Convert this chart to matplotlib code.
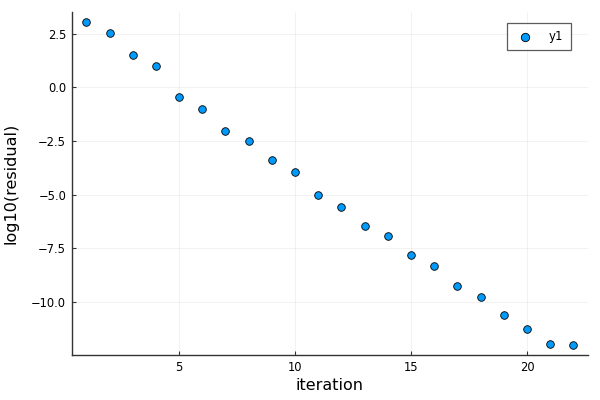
import matplotlib
matplotlib.use('Agg')
import matplotlib.pyplot as plt

# data
iteration = list(range(1, 23))
log_residual = [3.06, 2.55, 1.50, 0.99, -0.46, -1.02, -2.03, -2.50, -3.38, -3.95,
                -5.01, -5.56, -6.47, -6.92, -7.82, -8.33, -9.26, -9.76, -10.60, -11.25,
                -11.98, -12.03]
series_name = 'y1'

fig = plt.figure(figsize=(6, 4), dpi=100)
ax = fig.add_axes([0.1195, 0.1125, 0.8605, 0.8575])

ax.scatter(iteration, log_residual, s=30, color='#009AFA', edgecolors='black',
           linewidths=0.6, zorder=3, label=series_name)

ax.set_xlim(0.37, 22.63)
ax.set_ylim(-12.48, 3.51)
ax.set_xticks([5, 10, 15, 20])
ax.set_yticks([2.5, 0.0, -2.5, -5.0, -7.5, -10.0])
ax.set_yticklabels(['2.5', '0.0', '\u22122.5', '\u22125.0', '\u22127.5', '\u221210.0'])

ax.grid(True, color='black', alpha=0.07, linewidth=0.5)
ax.set_axisbelow(True)
for side in ['top', 'right']:
    ax.spines[side].set_visible(False)
for side in ['left', 'bottom']:
    ax.spines[side].set_color('#333333')
    ax.spines[side].set_linewidth(1.0)
ax.tick_params(direction='in', length=3, width=0.8, color='#333333',
               labelsize=8.3, labelcolor='black', pad=4)

ax.set_xlabel('iteration', fontsize=11.5, labelpad=3)
ax.set_ylabel('log10(residual)', fontsize=11.5, labelpad=9)

leg = ax.legend(loc='upper right', bbox_to_anchor=(0.951, 0.942),
                bbox_transform=fig.transFigure, fontsize=8.5, frameon=True,
                fancybox=False, borderpad=0.6, handletextpad=1.0,
                borderaxespad=0, markerscale=1.1)
leg.get_frame().set_edgecolor('#333333')
leg.get_frame().set_linewidth(0.9)

fig.savefig('out.png', dpi=100)
